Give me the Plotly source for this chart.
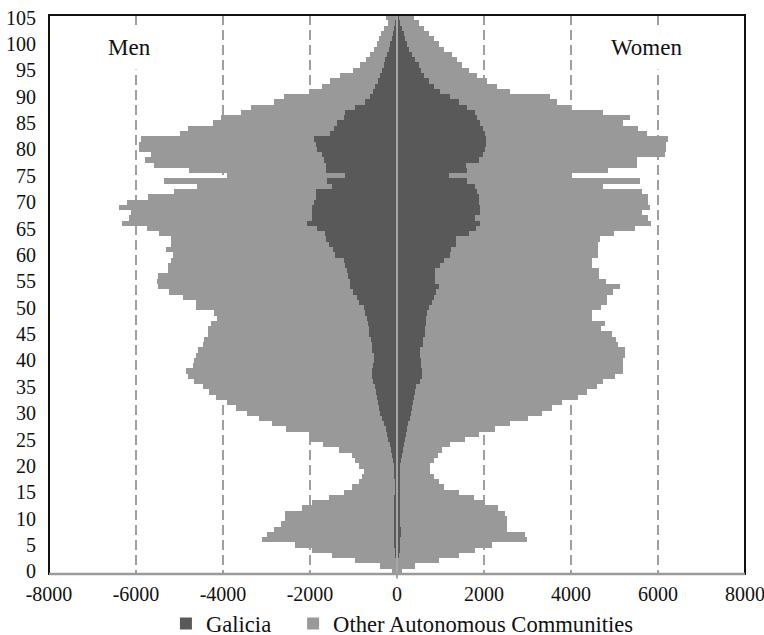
import plotly.graph_objects as go

# Single-year ages 0..105
ages = list(range(106))

# Men: people in Galicia (inner bar) and total including other communities
men_galicia = [
    5, 15, 25, 40, 50, 60, 75, 75, 75, 70,
    70, 70, 65, 60, 60, 55, 55, 55, 60, 70,
    80, 100, 120, 140, 170, 200, 230, 260, 300, 340,
    380, 410, 430, 470, 490, 510, 560, 570, 575, 545,
    540, 535, 570, 580, 590, 640, 650, 660, 700, 725,
    760, 880, 920, 1020, 1070, 1080, 1130, 1150, 1200, 1230,
    1430, 1460, 1560, 1640, 1650, 1850, 2065, 1950, 1950, 1950,
    1910, 1870, 1870, 1490, 1600, 1185, 1640, 1640, 1680, 1720,
    1830, 1870, 1910, 1530, 1450, 1375, 1220, 1185, 955, 730,
    620, 550, 500, 443, 400, 345, 305, 268, 230, 190,
    153, 115, 92, 61, 38, 30,
]
men_total = [
    115, 380, 955, 1490, 1950, 2345, 3095, 2980, 2830, 2675,
    2575, 2575, 2180, 1950, 1565, 1220, 1030, 880, 800, 765,
    880, 955, 1030, 1340, 1700, 2000, 2025, 2560, 2865, 3170,
    3450, 3700, 3900, 4165, 4320, 4470, 4660, 4815, 4850, 4700,
    4660, 4625, 4585, 4470, 4430, 4355, 4355, 4280, 4130, 4200,
    4625, 4625, 4930, 5235, 5500, 5520, 5500, 5275, 5275, 5200,
    5160, 5310, 5200, 5200, 5465, 5750, 6320, 6150, 6115, 6380,
    6200, 5730, 5120, 4590, 5350, 3900, 4780, 5580, 5790, 5650,
    5920, 5920, 5880, 5000, 4810, 4240, 4050, 3590, 3360, 2830,
    2600, 2025, 1720, 1530, 1300, 1010, 850, 710, 615, 540,
    460, 420, 370, 310, 200, 260,
]

# Women: same breakdown
women_galicia = [
    5, 15, 30, 45, 60, 70, 80, 85, 85, 80,
    80, 75, 70, 65, 60, 60, 60, 60, 65, 70,
    80, 95, 110, 130, 150, 175, 200, 230, 260, 290,
    320, 344, 360, 398, 420, 444, 520, 574, 574, 551,
    551, 535, 535, 589, 589, 635, 650, 673, 673, 688,
    727, 803, 841, 902, 956, 880, 880, 880, 994, 1070,
    1208, 1247, 1361, 1361, 1644, 1820, 1897, 1797, 1912, 1912,
    1874, 1874, 1850, 1797, 1606, 1185, 1606, 1590, 1874, 1988,
    2027, 2050, 2050, 2027, 1988, 1897, 1850, 1797, 1606, 1415,
    1224, 994, 841, 727, 612, 550, 497, 420, 344, 268,
    229, 191, 153, 115, 76, 38,
]
women_total = [
    115, 420, 956, 1415, 1797, 2180, 2983, 2944, 2524, 2524,
    2524, 2486, 2333, 2027, 1759, 1415, 1071, 956, 841, 765,
    765, 841, 941, 1032, 1224, 1568, 1874, 2256, 2600, 3021,
    3327, 3556, 3786, 4168, 4359, 4604, 4742, 5010, 5185, 5185,
    5185, 5239, 5239, 5086, 5032, 4933, 4681, 4780, 4489, 4489,
    4681, 4818, 4818, 4955, 5124, 4803, 4650, 4650, 4474, 4474,
    4627, 4627, 4627, 4665, 4986, 5468, 5850, 5774, 5621, 5812,
    5774, 5774, 5621, 4742, 5583, 4015, 4856, 5507, 5507, 6157,
    6195, 6195, 6233, 5736, 5545, 5200, 5354, 4742, 3977, 3671,
    3518, 2600, 2294, 2065, 1835, 1644, 1491, 1377, 1262, 1071,
    956, 841, 727, 612, 497, 382,
]

x_ticks = list(range(-8000, 8001, 2000))
y_ticks = list(range(0, 106, 5))

men_other = [t - g for t, g in zip(men_total, men_galicia)]
women_other = [t - g for t, g in zip(women_total, women_galicia)]

FONT = "Liberation Serif"
TEXT = "#111111"
DARK = "#595959"
LIGHT = "#999999"
NBSP = "\u00a0"

fig = go.Figure()
fig.add_trace(go.Bar(
    # trailing non-breaking spaces widen the gap to the next legend entry
    name="Galicia" + NBSP * 3, orientation="h",
    y=ages + ages,
    x=[-v for v in men_galicia] + women_galicia,
    marker=dict(color=DARK, line=dict(width=0)),
))
fig.add_trace(go.Bar(
    name="Other Autonomous Communities", orientation="h",
    y=ages + ages,
    x=[-v for v in men_other] + women_other,
    marker=dict(color=LIGHT, line=dict(width=0)),
))

fig.update_layout(
    width=764, height=635,
    margin=dict(l=49, r=19, t=15, b=61, autoexpand=False),
    paper_bgcolor="white", plot_bgcolor="white",
    barmode="relative", bargap=0,
    font=dict(family=FONT, size=20, color=TEXT),
    showlegend=True,
    legend=dict(
        orientation="h", x=0.168, xanchor="left", y=-0.089, yanchor="middle",
        font=dict(family=FONT, size=22.6, color=TEXT),
        bgcolor="rgba(0,0,0,0)", traceorder="normal",
    ),
    xaxis=dict(
        range=[-8000, 8000], tickvals=x_ticks,
        ticktext=[str(v) for v in x_ticks],
        showgrid=True, gridcolor="#a0a0a0", griddash="10px,5px", gridwidth=2,
        zeroline=False, showline=False, ticks="",
        ticklabelstandoff=6, ticklabeloverflow="allow",
        tickfont=dict(family=FONT, size=20, color=TEXT),
    ),
    yaxis=dict(
        range=[-0.5, 105.5], tickvals=y_ticks,
        showgrid=False, zeroline=False, showline=False, ticks="",
        ticklabelstandoff=12,
        tickfont=dict(family=FONT, size=20, color=TEXT),
    ),
    shapes=[
        # centre axis drawn over the bars
        dict(type="line", xref="x", yref="paper", x0=0, x1=0, y0=-0.008, y1=1,
             line=dict(color="#a6a6a6", width=2), layer="above"),
        # plot frame
        dict(type="rect", xref="paper", yref="paper", x0=0, x1=1, y0=0, y1=1,
             line=dict(color=TEXT, width=2), layer="above"),
        # horizontal value axis line
        dict(type="line", xref="paper", yref="paper", x0=0, x1=1, y0=0, y1=0,
             line=dict(color="#9a9a9a", width=2.5), layer="above"),
    ],
    annotations=[
        dict(text="Men", xref="x", yref="paper", x=-6150, y=0.942,
             xanchor="center", yanchor="middle",
             showarrow=False, bgcolor="white", borderpad=9,
             font=dict(family=FONT, size=23, color=TEXT)),
        dict(text="Women", xref="x", yref="paper", x=5740, y=0.942,
             xanchor="center", yanchor="middle",
             showarrow=False, bgcolor="white", borderpad=9,
             font=dict(family=FONT, size=23, color=TEXT)),
    ],
)

fig.write_html("out.html")
